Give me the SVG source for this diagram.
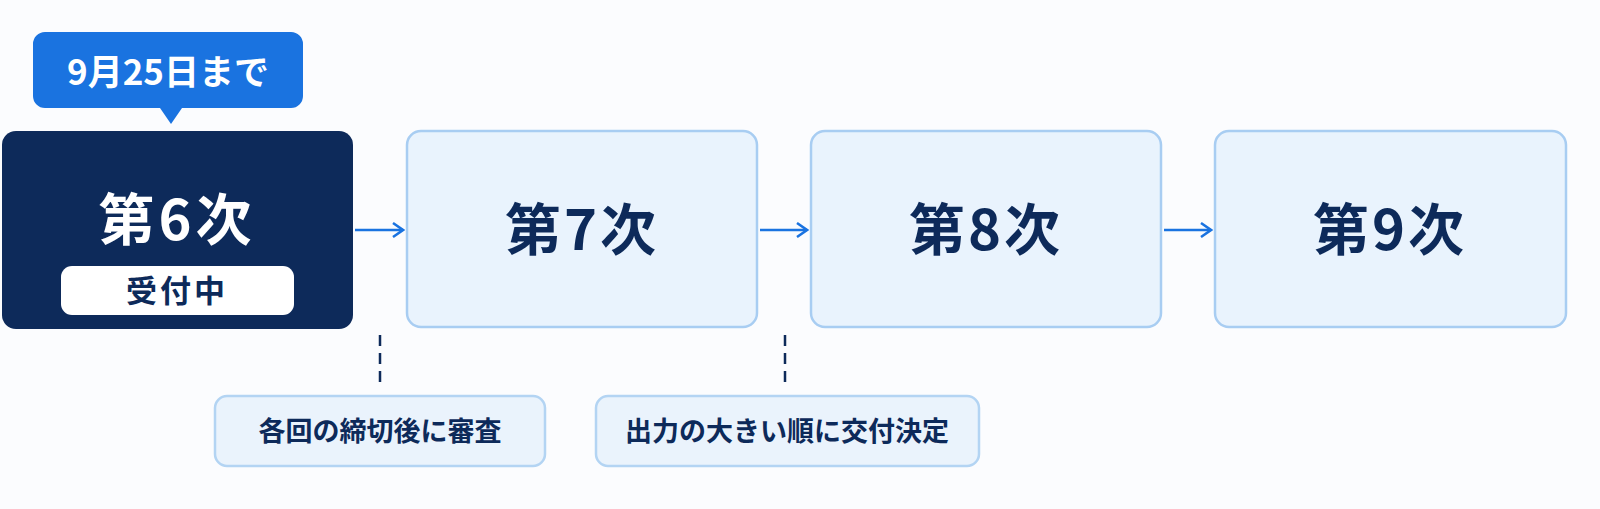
<svg xmlns="http://www.w3.org/2000/svg" width="1600" height="509" viewBox="0 0 1600 509">
<style>
text{font-family:"Noto Sans CJK JP","Noto Sans",sans-serif;font-weight:700;text-anchor:middle}
.step{fill:#e9f3fd;stroke:#a8cdf2;stroke-width:2.5}
.big{font-size:56px;fill:#0d2a5a;letter-spacing:3px}
.lab{fill:#eaf3fc;stroke:#b3d4f3;stroke-width:2.5}
.lt{font-size:27px;fill:#0d2a5a}
.conn{stroke:#1a73e0;stroke-width:2.5;fill:none}
.dash{stroke:#0d2a5a;stroke-width:2.5;stroke-dasharray:11 7}
</style>
<defs><marker id="ah" markerWidth="14" markerHeight="16" refX="12" refY="8" orient="auto" markerUnits="userSpaceOnUse"><path d="M2,1 L12,8 L2,15" fill="none" stroke="#1a73e0" stroke-width="2.5"/></marker></defs>
<rect width="1600" height="509" fill="#fbfcfe"/>
<g id="callout">
<path d="M45,32 H291 A12,12 0 0 1 303,44 V96 A12,12 0 0 1 291,108 H182 L171,124 L160,108 H45 A12,12 0 0 1 33,96 V44 A12,12 0 0 1 45,32 Z" fill="#1a73e0"/>
<text x="168" y="85" font-size="35" fill="#fff">9月25日まで</text>
</g>
<g id="n6">
<rect x="2" y="131" width="351" height="198" rx="14" fill="#0d2a5a"/>
<text x="177" y="240" font-size="56" fill="#fff" letter-spacing="4">第6次</text>
<rect x="61" y="266" width="233" height="49" rx="11" fill="#fff"/>
<text x="177" y="302" font-size="31" fill="#0d2a5a" letter-spacing="3">受付中</text>
</g>
<g id="n7"><rect class="step" x="407" y="131" width="350" height="196" rx="14"/><text class="big" x="582" y="250">第7次</text></g>
<g id="n8"><rect class="step" x="811" y="131" width="350" height="196" rx="14"/><text class="big" x="986" y="250">第8次</text></g>
<g id="n9"><rect class="step" x="1215" y="131" width="351" height="196" rx="14"/><text class="big" x="1390" y="250">第9次</text></g>
<g id="l1"><rect class="lab" x="215" y="396" width="330" height="70" rx="12"/><text class="lt" x="380" y="441">各回の締切後に審査</text></g>
<g id="l2"><rect class="lab" x="596" y="396" width="383" height="70" rx="12"/><text class="lt" x="787" y="441">出力の大きい順に交付決定</text></g>
<g id="connectors">
<line class="conn" x1="355" y1="230" x2="403" y2="230" marker-end="url(#ah)"/>
<line class="conn" x1="760" y1="230" x2="807" y2="230" marker-end="url(#ah)"/>
<line class="conn" x1="1164" y1="230" x2="1211" y2="230" marker-end="url(#ah)"/>
<line class="dash" x1="380" y1="335" x2="380" y2="383"/>
<line class="dash" x1="785" y1="335" x2="785" y2="383"/>
</g>
</svg>
